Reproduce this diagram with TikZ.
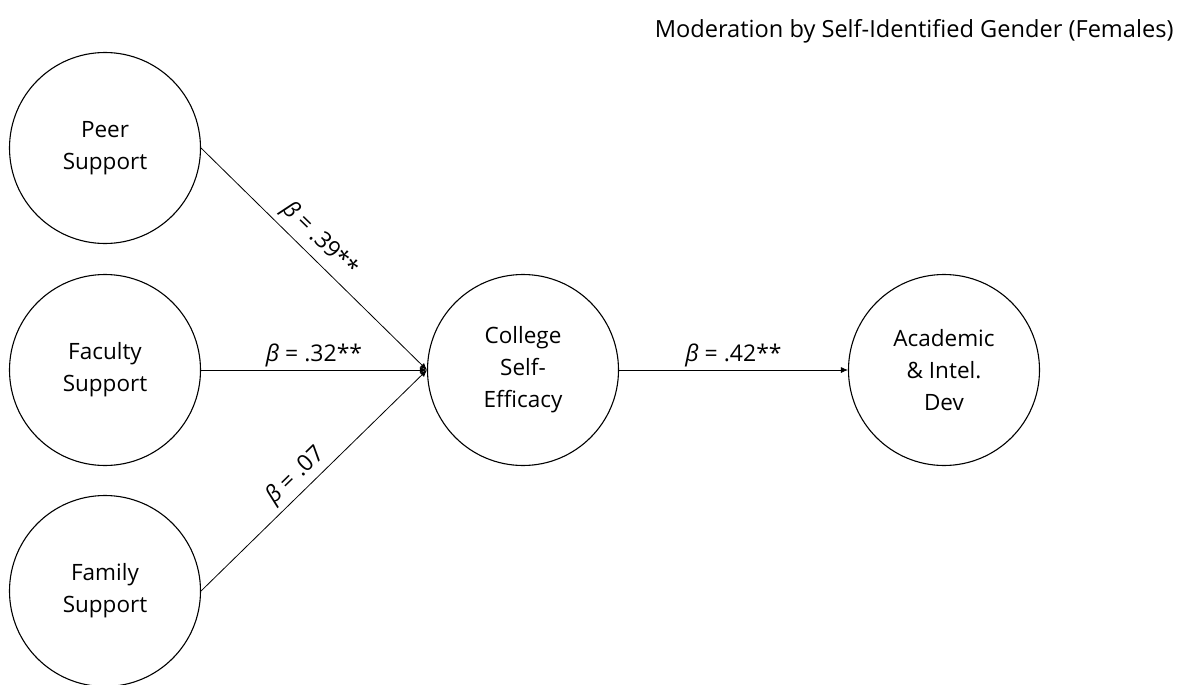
\documentclass[tikz,border=0pt]{standalone}
\usepackage{fontspec}
\setmainfont[Ligatures={NoCommon}]{Open Sans}
\usetikzlibrary{arrows.meta}
\begin{document}
\begin{tikzpicture}[x=1pt,y=1pt,
  construct/.style={draw, circle, line width=1.1pt, minimum size=191pt, inner sep=0pt,
    align=center, font=\fontsize{22.5}{32}\selectfont},
  path/.style={line width=0.8pt, -{Latex[length=7pt,width=6pt]}},
  coef/.style={font=\fontsize{23}{27}\selectfont, inner sep=3pt}]
\useasboundingbox (0,0) rectangle (1186,-685);
\node[font=\fontsize{23.6}{28}\selectfont, anchor=east] (title) at (1177,-31) {Moderation by Self-Identified Gender (Females)};
\node[construct] (peer) at (105,-148) {Peer\\Support};
\node[construct] (fac) at (105,-370) {Faculty\\Support};
\node[construct] (fam) at (105,-591) {Family\\Support};
\node[construct] (cse) at (523,-370) {College\\Self-\\Efficacy};
\node[construct] (aid) at (944,-370) {Academic\\\& Intel.\\Dev};
\draw[path] (peer.east) -- node[coef, sloped, above, pos=0.47, inner sep=6pt] {\itshape β\upshape{} = .39**} (cse.west);
\draw[path] (fac.east) -- node[coef, above, pos=0.5] {\itshape β\upshape{} = .32**} (cse.west);
\draw[path] (fam.east) -- node[coef, sloped, above, pos=0.47, inner sep=4pt] {\itshape β\upshape{} = .07} (cse.west);
\draw[path] (cse.east) -- node[coef, above, pos=0.5] {\itshape β\upshape{} = .42**} (aid.west);
\end{tikzpicture}
\end{document}
